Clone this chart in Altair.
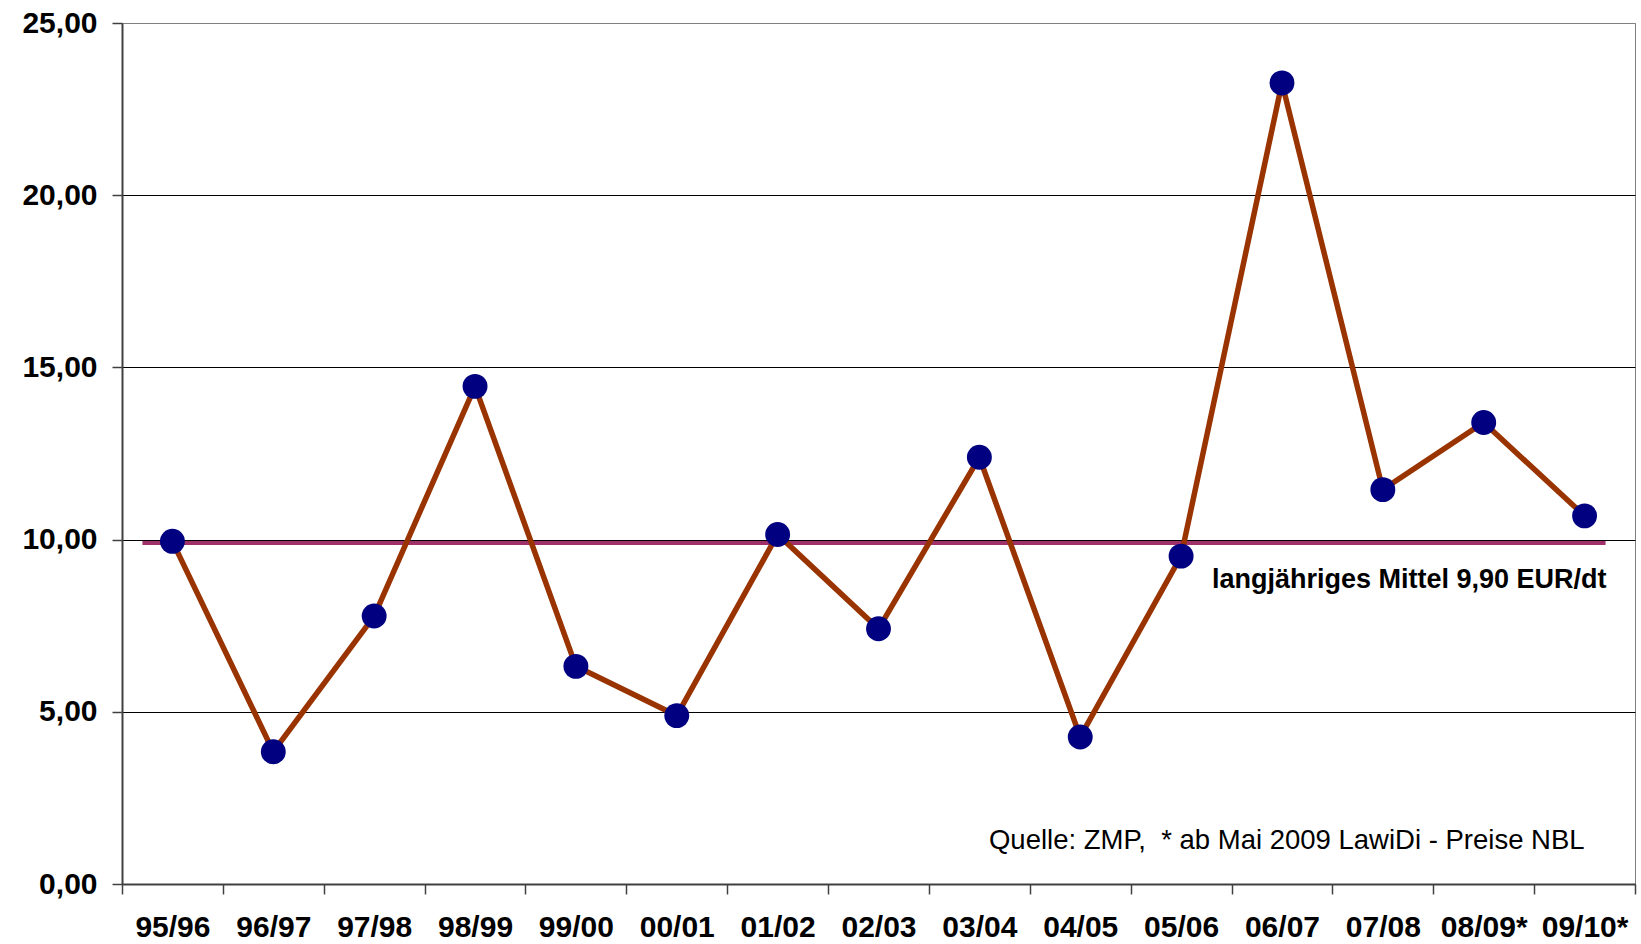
import altair as alt
import pandas as pd

# Seasons and average prices (EUR/dt)
seasons = ["95/96", "96/97", "97/98", "98/99", "99/00", "00/01", "01/02", "02/03",
           "03/04", "04/05", "05/06", "06/07", "07/08", "08/09*", "09/10*"]
prices = [9.95, 3.84, 7.78, 14.45, 6.32, 4.89, 10.15, 7.41,
          12.39, 4.27, 9.52, 23.26, 11.45, 13.40, 10.69]

mean_value = 9.90
mean_label = "langjähriges Mittel 9,90 EUR/dt"
# non-breaking space keeps the double gap after "ZMP,"
source_note = "Quelle: ZMP,\u00a0 * ab Mai 2009 LawiDi - Preise NBL"
y_ticks = [0, 5, 10, 15, 20, 25]

FONT = "Liberation Sans"

df = pd.DataFrame({"season": seasons, "price": prices})
mean_df = pd.DataFrame({"start": [seasons[0]], "end": [seasons[-1]], "value": [mean_value]})
mean_text_df = pd.DataFrame({"season": [seasons[-1]], "value": [mean_value], "label": [mean_label]})
source_df = pd.DataFrame({"season": [seasons[-1]], "value": [0], "label": [source_note]})

x_scale = alt.Scale(type="band", domain=seasons, paddingInner=0, paddingOuter=0)
y_scale = alt.Scale(domain=[0, 25], nice=False)

x_axis = alt.Axis(
    title=None, labelAngle=0, labelFont=FONT, labelFontSize=30, labelFontWeight="bold",
    labelColor="#000000", tickBand="extent", tickSize=10, tickColor="#404040", tickWidth=1.5,
    domainColor="#404040", domainWidth=2, labelPadding=18, grid=False,
)
y_axis = alt.Axis(
    title=None, values=y_ticks, labelExpr="replace(format(datum.value, '.2f'), '.', ',')",
    labelFont=FONT, labelFontSize=30, labelFontWeight="bold", labelColor="#000000",
    tickSize=10, tickColor="#404040", tickWidth=1.5, domainColor="#404040", domainWidth=2,
    labelPadding=15, grid=True,
    gridColor={"condition": {"test": "datum.value === 25", "value": "#808080"}, "value": "#000000"},
    gridWidth=1,
)

X = alt.X("season:N", scale=x_scale, axis=x_axis)
Y = alt.Y("price:Q", scale=y_scale, axis=y_axis)

mean_rule = alt.Chart(mean_df).mark_rule(
    color="#A0306A", strokeWidth=4, xOffset=-30, x2Offset=21
).encode(
    x=alt.X("start:N", scale=x_scale, axis=x_axis),
    x2="end:N",
    y=alt.Y("value:Q", scale=y_scale, axis=y_axis),
)

line = alt.Chart(df).mark_line(color="#993300", strokeWidth=5.5).encode(x=X, y=Y)
points = alt.Chart(df).mark_circle(color="#000080", size=620, opacity=1).encode(x=X, y=Y)

mean_text = alt.Chart(mean_text_df).mark_text(
    align="right", baseline="middle", dx=22, dy=37,
    font=FONT, fontSize=27, fontWeight="bold", color="#000000",
).encode(
    x=alt.X("season:N", scale=x_scale, axis=x_axis),
    y=alt.Y("value:Q", scale=y_scale, axis=y_axis),
    text="label:N",
)

source_text = alt.Chart(source_df).mark_text(
    align="right", baseline="middle", dy=-43,
    font=FONT, fontSize=27.5, fontWeight="normal", color="#000000",
).encode(
    x=alt.X("season:N", scale=x_scale, axis=x_axis),
    y=alt.Y("value:Q", scale=y_scale, axis=y_axis),
    text="label:N",
)

chart = alt.layer(mean_rule, line, points, mean_text, source_text).properties(
    width=1513,
    height=861,
    autosize=alt.AutoSizeParams(type="none"),
    padding={"left": 122, "top": 23, "right": 6, "bottom": 60},
    background="#ffffff",
).configure_view(
    stroke="#808080", strokeWidth=1,
)

chart.save("out.html", embed_options={"renderer": "svg", "actions": False})
